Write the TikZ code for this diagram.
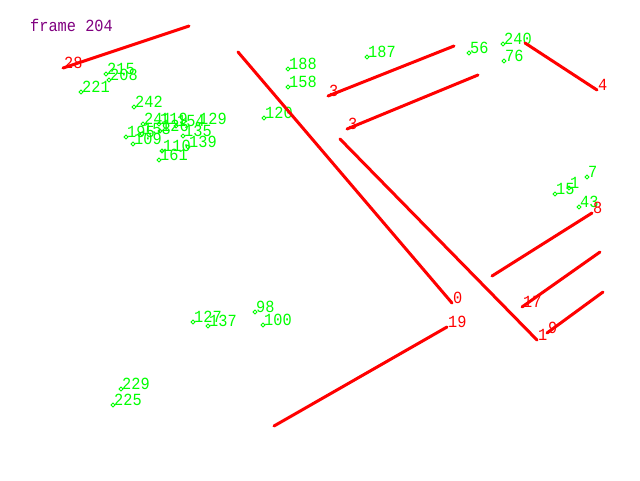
\documentclass[tikz,border=0pt]{standalone}
\usepackage{fontspec}
\setmonofont[FakeStretch=0.9]{Liberation Mono}
\definecolor{trkred}{RGB}{255,0,0}
\definecolor{ptgreen}{RGB}{0,255,0}
\definecolor{frmpurple}{RGB}{128,0,128}

\begin{document}
\begin{tikzpicture}[x=1pt,y=-1pt,
	lab/.style={anchor=base west,inner sep=0pt,font=\ttfamily\fontsize{17}{17}\selectfont},
	seg/.style={draw=trkred,line width=3pt,line cap=round}]
	\def\mk{2}
	\useasboundingbox (0,0) rectangle (640,480);
	\node[lab,text=frmpurple] (frame) at (30,31) {frame 204};

	% keypoints
	\foreach \x/\y/\n in {106/74/215,109/80/208,81/92/221,134/107/242,
		288/69/188,288/87/158,264/118/120,367/57/187,469/53/56,503/44/240,
		504/61/76,587/177/7,555/194/15,569/188/1,579/207/43,
		255/312/98,263/325/100,193/322/127,208/326/137,121/389/229,113/405/225,
		143/124/241,159/124/119,176/126/154,198/124/129,
		126/137/195,142/134/158,160/131/126,183/136/135,
		133/144/109,162/151/110,188/147/139,159/160/161}{
		\draw[ptgreen,line width=.8pt] (\x,\y) ++(-\mk,0) -- ++(\mk,-\mk) -- ++(\mk,\mk) -- ++(-\mk,\mk) -- cycle;
		\node[lab,text=ptgreen] (p\n) at (\x+1,\y) {\n};
	}

	% tracked segments, label at first end
	\foreach \ax/\ay/\bx/\by/\n [count=\k] in {63/68/189/26/28,328/96/454/46/3,
		347/129/478/75/3,597/90/525/43/4,452/303/238/52/0,537/340/340/139/1,
		592/213/492/276/8,522/307/600/252/17,547/333/603/292/9,447/327/274/426/19}{
		\coordinate (t\k a) at (\ax,\ay);
		\coordinate (t\k b) at (\bx,\by);
		\draw[seg] (t\k a) -- (t\k b);
		\node[lab,text=trkred] (tl\k) at (\ax+1,\ay) {\n};
	}
\end{tikzpicture}
\end{document}
